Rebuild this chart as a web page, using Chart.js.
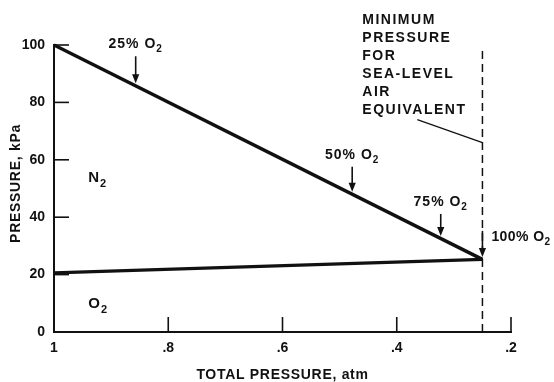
<!DOCTYPE html>
<html>
<head>
<meta charset="utf-8">
<script src="https://cdn.jsdelivr.net/npm/chart.js@4.4.1/dist/chart.umd.min.js"></script>
<style>
  html, body { margin: 0; padding: 0; background: #fff; }
  #wrap { width: 554px; height: 382px; }
</style>
</head>
<body>
<div id="wrap"><canvas id="c" width="554" height="382"></canvas></div>
<script>
// Total cabin pressure (atm) against partial pressures (kPa)
const totalAtm   = [1, 0.25];
const totalKPa   = [100, 25.3];
const oxygenKPa  = [20.6, 25.3];
const xTicks     = [1, 0.8, 0.6, 0.4, 0.2];
const yTicks     = [0, 20, 40, 60, 80, 100];

// Limit for sea-level air equivalent
const limitAtm    = 0.25;
const limitTopKPa = 99;
const noteLines   = ['MINIMUM', 'PRESSURE', 'FOR', 'SEA-LEVEL', 'AIR', 'EQUIVALENT'];
const leaderAtm   = [0.364, 0.25];
const leaderKPa   = [74, 66];

// Oxygen fraction markers along the total-pressure line
const mixLabels = ['25%', '50%', '75%', '100%'];
const mixAtm    = [0.857, 0.478, 0.323, 0.25];
const mixKPa    = [85.8, 48, 32.6, 25.3];

// Region names
const regionNames = ['N', 'O'];
const regionAtm   = [0.94, 0.94];
const regionKPa   = [52.3, 8.5];

const FONT = "'Liberation Sans', Arial, Helvetica, sans-serif";
const INK = '#111';

// arrow shaft lengths (px) for each marker
const arrowLen = [27, 25, 22, 26];

function pts(xs, ys) { return xs.map((x, i) => ({ x, y: ys[i] })); }

// text followed by a subscript, left-aligned at x
function chem(ctx, main, sub, x, y, size) {
  ctx.font = 'bold ' + size + 'px ' + FONT;
  ctx.fillText(main, x, y);
  const w = ctx.measureText(main).width;
  ctx.font = 'bold ' + Math.round(size * 0.72) + 'px ' + FONT;
  ctx.fillText(sub, x + w, y + Math.round(size * 0.3));
}
function chemWidth(ctx, main, sub, size) {
  ctx.font = 'bold ' + size + 'px ' + FONT;
  const a = ctx.measureText(main).width;
  ctx.font = 'bold ' + Math.round(size * 0.72) + 'px ' + FONT;
  return a + ctx.measureText(sub).width;
}

const decorations = {
  id: 'decorations',
  afterDatasetsDraw(chart) {
    const ctx = chart.ctx;
    const xs = chart.scales.x, ys = chart.scales.y;
    const area = chart.chartArea;
    ctx.save();
    ctx.strokeStyle = INK;
    ctx.fillStyle = INK;
    ctx.lineCap = 'butt';

    // inward tick marks
    ctx.lineWidth = 1.6;
    yTicks.forEach(v => {
      if (v === 0) return;
      const py = ys.getPixelForValue(v);
      ctx.beginPath(); ctx.moveTo(area.left, py); ctx.lineTo(area.left + 15, py); ctx.stroke();
    });
    xTicks.forEach(v => {
      if (v === 1) return;
      const px = xs.getPixelForValue(v);
      ctx.beginPath(); ctx.moveTo(px, area.bottom); ctx.lineTo(px, area.bottom - 15); ctx.stroke();
    });

    // marker arrows and labels
    ctx.textBaseline = 'alphabetic';
    ctx.textAlign = 'left';
    mixAtm.forEach((a, i) => {
      const px = xs.getPixelForValue(a);
      const tip = ys.getPixelForValue(mixKPa[i]) - 2.5;
      const top = tip - arrowLen[i];
      ctx.lineWidth = 1.6;
      ctx.beginPath(); ctx.moveTo(px, top); ctx.lineTo(px, tip - 7); ctx.stroke();
      ctx.beginPath();
      ctx.moveTo(px - 3.6, tip - 9); ctx.lineTo(px + 3.6, tip - 9); ctx.lineTo(px, tip);
      ctx.closePath(); ctx.fill();
      const txt = mixLabels[i] + ' O';
      if (i < mixAtm.length - 1) {
        ctx.letterSpacing = '1px';
        const w = chemWidth(ctx, txt, '2', 14);
        chem(ctx, txt, '2', px - w / 2, top - 8, 14);
      } else {
        ctx.letterSpacing = '0.4px';
        chem(ctx, txt, '2', px + 9, top + 10, 14);
      }
    });

    // region names
    ctx.letterSpacing = '1px';
    regionNames.forEach((n, i) => {
      chem(ctx, n, '2', xs.getPixelForValue(regionAtm[i]), ys.getPixelForValue(regionKPa[i]), 15);
    });

    // note above the limit line
    ctx.letterSpacing = '1.5px';
    ctx.font = 'bold 14px ' + FONT;
    const nx = xs.getPixelForValue(leaderAtm[0]) - 55;
    noteLines.forEach((s, i) => ctx.fillText(s, nx, 23.5 + i * 18));

    // axis titles
    ctx.letterSpacing = '0.7px';
    ctx.font = 'bold 14px ' + FONT;
    ctx.textAlign = 'center';
    ctx.fillText('TOTAL PRESSURE, atm', (area.left + area.right) / 2, 379);
    ctx.translate(16, (area.top + area.bottom) / 2 - 5);
    ctx.rotate(-Math.PI / 2);
    ctx.textBaseline = 'middle';
    ctx.fillText('PRESSURE, kPa', 0, 0);
    ctx.restore();
  }
};

const tickFont = { family: FONT, size: 14, weight: 'bold' };

new Chart(document.getElementById('c'), {
  type: 'scatter',
  data: {
    datasets: [
      { data: pts(totalAtm, totalKPa), showLine: true, borderColor: INK, borderWidth: 3.4,
        pointRadius: 0, clip: false },
      { data: pts(totalAtm, oxygenKPa), showLine: true, borderColor: INK, borderWidth: 3.2,
        pointRadius: 0, clip: false },
      { data: pts([limitAtm, limitAtm], [0, limitTopKPa]), showLine: true, borderColor: INK,
        borderWidth: 1.5, borderDash: [8, 5], pointRadius: 0, clip: false },
      { data: pts(leaderAtm, leaderKPa), showLine: true, borderColor: INK, borderWidth: 1.2,
        pointRadius: 0, clip: false }
    ]
  },
  options: {
    responsive: false,
    animation: false,
    events: [],
    layout: { padding: { left: 0, right: 43, top: 45, bottom: 0 } },
    plugins: { legend: { display: false }, tooltip: { enabled: false } },
    scales: {
      x: {
        type: 'linear', reverse: true, min: 0.2, max: 1,
        grid: { display: false, drawTicks: false },
        border: { display: true, width: 2, color: INK },
        ticks: {
          color: INK, font: tickFont, padding: 8,
          callback: v => { const r = Math.round(v * 10) / 10; return r === 1 ? '1' : String(r).replace('0.', '.'); }
        },
        afterBuildTicks: s => { s.ticks = xTicks.map(v => ({ value: v })); },
        afterFit: s => { s.height = 50; }
      },
      y: {
        min: 0, max: 100,
        grid: { display: false, drawTicks: false },
        border: { display: true, width: 2, color: INK },
        ticks: { color: INK, font: tickFont, padding: 9, callback: v => String(v) },
        afterBuildTicks: s => { s.ticks = yTicks.map(v => ({ value: v })); },
        afterFit: s => { s.width = 54; }
      }
    }
  },
  plugins: [decorations]
});
</script>
</body>
</html>
